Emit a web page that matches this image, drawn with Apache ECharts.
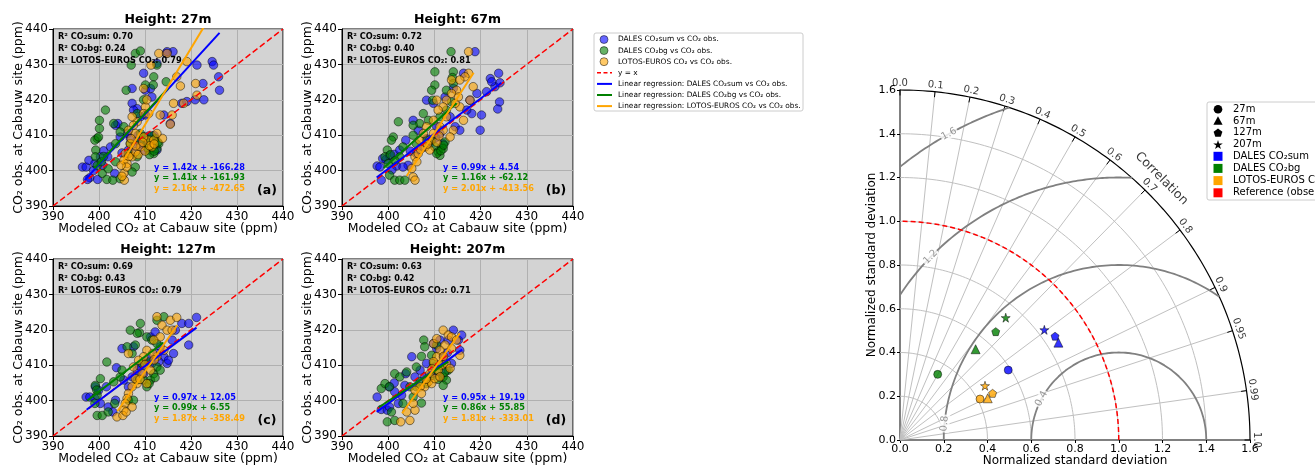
<!DOCTYPE html>
<html><head><meta charset="utf-8">
<script src="https://cdn.jsdelivr.net/npm/echarts@6/dist/echarts.min.js"></script>
<style>html,body{margin:0;padding:0;background:#fff}#c{width:1315px;height:466px}</style>
</head><body><div id="c"></div><script>
// ---------------- DATA ----------------
const heights = ['27m', '67m', '127m', '207m'];
const panelLetters = ['(a)', '(b)', '(c)', '(d)'];
const axisTicks = [390, 400, 410, 420, 430, 440];
const identityLine = [390, 440];

const r2Sum = [0.70, 0.72, 0.69, 0.63];
const r2Bg = [0.24, 0.40, 0.43, 0.42];
const r2Le = [0.79, 0.81, 0.79, 0.71];

const regSum = [[1.42, -166.28], [0.99, 4.54], [0.97, 12.05], [0.95, 19.19]];
const regBg = [[1.41, -161.93], [1.16, -62.12], [0.99, 6.55], [0.86, 55.85]];
const regLe = [[2.16, -472.65], [2.01, -413.56], [1.87, -358.49], [1.81, -333.01]];
const regSumRange = [[396.9, 426.2], [397.5, 424.5], [397.3, 421.2], [397.5, 416.0]];
const regBgRange = [[399.0, 415.0], [399.0, 414.8], [397.5, 414.0], [398.0, 413.0]];
const regLeRange = [[405.0, 423.5], [404.0, 418.5], [404.0, 417.0], [403.0, 415.5]];

const sum27 = [[396.4,401.0],[397.2,401.0],[397.8,402.9],[398.0,398.0],[397.5,397.5],[399.7,397.5],[399.1,402.0],[400.3,403.9],[401.0,405.6],[401.9,403.9],[402.5,406.7],[403.6,412.8],[404.1,413.3],[403.4,399.2],[404.6,409.5],[406.2,410.5],[407.2,423.2],[407.2,419.0],[408.3,417.5],[409.7,427.5],[410.1,422.7],[411.2,423.2],[411.5,420.8],[412.6,430.3],[414.6,433.1],[416.1,433.6],[414.8,433.6],[414.1,415.7],[415.5,413.3],[418.0,419.0],[419.1,419.5],[420.9,420.0],[421.3,429.8],[422.6,424.6],[422.8,420.0],[424.6,430.8],[424.9,429.8],[426.0,426.5],[426.2,422.7],[408.3,408.6],[409.0,407.6],[407.5,406.7],[410.4,408.6],[409.7,405.8],[406.4,405.8],[411.9,408.6],[412.6,405.8],[409.0,415.2],[407.5,417.1],[410.1,415.7],[408.5,410.0],[410.8,409.8],[405.0,405.0],[406.8,409.2],[412.0,409.9],[398.8,400.0],[400.8,401.5]];
const bg27 = [[407.9,433.1],[409.0,433.8],[407.0,429.8],[405.9,422.7],[401.4,417.1],[400.1,414.2],[400.1,411.9],[399.6,409.1],[399.1,408.6],[399.9,409.5],[399.3,405.8],[399.2,403.9],[399.6,401.4],[400.7,399.2],[401.7,397.5],[403.0,397.3],[403.6,402.5],[407.9,401.0],[407.2,399.6],[404.6,397.7],[403.2,413.3],[405.4,412.4],[411.9,426.5],[410.1,424.2],[411.8,424.2],[414.6,425.1],[412.6,429.8],[409.7,420.0],[408.3,416.1],[409.0,410.5],[409.7,409.5],[410.4,407.6],[411.2,408.6],[411.5,406.7],[411.9,404.8],[412.2,409.1],[412.6,406.2],[410.8,405.8],[413.0,407.6],[409.0,408.6],[406.4,404.8],[403.6,407.6],[404.6,410.9],[408.3,403.9],[406.8,407.6],[411.0,404.5],[412.0,405.5],[410.5,406.5],[412.8,408.0],[411.5,409.8],[400.5,402.5],[401.0,404.0],[402.0,400.5]];
const le27 = [[413.0,433.1],[414.8,433.1],[411.3,429.8],[419.1,430.8],[416.9,426.5],[417.7,423.9],[421.0,424.6],[421.3,421.3],[418.4,419.0],[415.9,415.7],[415.5,413.1],[413.3,415.7],[413.8,409.1],[409.7,423.2],[410.1,418.0],[409.7,416.1],[408.3,413.8],[407.5,412.8],[406.8,407.6],[405.7,404.8],[405.4,402.9],[405.4,399.2],[405.5,397.3],[405.0,398.4],[406.1,402.0],[407.2,403.9],[407.9,405.3],[409.0,406.7],[410.8,408.6],[411.5,406.7],[411.9,408.6],[409.7,409.5],[412.6,410.5],[407.9,410.5],[406.4,411.4],[407.2,415.2],[410.4,420.0],[410.8,416.1],[416.2,419.0],[406.5,404.0],[408.5,404.5],[410.0,405.5],[411.0,407.0],[412.0,407.5],[406.0,401.0],[408.0,407.0],[409.5,408.0],[407.0,409.0],[404.8,401.5]];

const sum67 = [[397.6,401.3],[398.2,401.0],[398.8,403.4],[398.5,397.3],[399.5,403.1],[400.3,404.3],[401.3,404.6],[401.8,401.3],[402.5,405.8],[403.8,408.6],[404.3,401.5],[405.4,414.2],[406.5,411.4],[408.3,419.9],[409.8,419.0],[410.5,412.4],[412.3,420.8],[414.1,423.2],[413.4,415.2],[414.5,412.4],[415.5,411.4],[416.3,427.5],[417.7,419.9],[418.1,416.1],[418.8,433.6],[419.2,421.8],[420.2,415.7],[419.9,411.4],[421.3,422.3],[423.1,423.7],[422.1,426.0],[423.9,427.5],[424.2,424.8],[424.1,419.4],[423.7,417.4],[422.4,425.1],[417.0,417.1],[411.9,407.6],[411.2,410.5],[409.0,407.6],[407.6,406.7],[406.1,404.8],[403.2,401.0],[408.3,409.0],[410.3,409.2],[404.8,405.5],[400.8,400.2]];
const bg67 = [[413.6,433.6],[410.1,427.9],[410.1,424.2],[414.1,427.9],[413.9,426.3],[409.4,422.7],[409.6,419.9],[407.6,416.1],[406.8,413.3],[405.4,412.8],[402.2,413.8],[401.1,409.5],[400.7,408.6],[399.8,405.8],[399.3,403.9],[400.0,402.0],[400.3,398.7],[401.4,397.3],[402.5,397.3],[403.6,397.3],[405.4,410.0],[408.7,414.2],[411.2,415.2],[412.6,417.1],[409.4,408.6],[410.1,406.7],[410.8,405.3],[411.6,406.7],[411.2,404.3],[412.3,408.1],[411.9,406.2],[408.3,408.6],[406.1,407.6],[402.5,403.9],[403.2,406.7],[414.1,424.6],[412.6,422.7],[413.7,419.4],[410.5,404.8],[411.4,405.6],[412.0,407.2],[400.5,404.5],[401.5,402.8]];
const le67 = [[417.4,433.6],[417.4,427.5],[416.6,426.5],[415.5,425.6],[414.8,422.7],[413.7,421.8],[418.4,423.7],[417.7,419.9],[416.3,414.2],[415.5,418.0],[414.5,419.0],[412.6,419.9],[411.9,418.0],[410.5,419.9],[410.8,417.1],[412.6,415.2],[414.1,411.4],[413.4,409.5],[409.8,414.2],[408.3,412.4],[406.8,408.6],[405.8,403.9],[405.4,398.2],[405.8,397.3],[405.1,400.6],[406.5,404.8],[408.0,406.7],[409.0,408.6],[409.8,410.5],[411.2,412.4],[411.9,411.4],[407.6,410.5],[409.0,405.8],[413.7,425.6],[415.2,420.8],[407.0,406.0],[408.5,407.5],[410.5,408.0],[406.2,402.5],[411.0,409.8]];

const sum127 = [[397.2,401.0],[398.0,401.0],[399.2,403.9],[399.9,402.9],[401.6,403.9],[402.0,398.2],[403.0,396.8],[403.6,400.1],[403.8,409.3],[405.0,414.7],[406.4,403.9],[408.3,408.6],[407.5,415.2],[410.4,410.5],[411.2,418.0],[412.2,419.4],[413.3,415.2],[414.1,412.4],[414.8,410.5],[415.9,417.1],[416.6,419.9],[418.0,421.8],[419.5,421.8],[419.5,415.7],[421.2,423.5],[416.2,413.3],[415.1,411.4],[412.6,413.3],[411.5,410.5],[409.7,407.6],[407.2,406.7],[405.4,405.8],[400.3,399.2],[399.1,400.6],[410.8,412.0],[413.0,411.0],[408.8,409.8]];
const bg127 = [[414.1,423.7],[412.6,422.7],[409.0,421.8],[408.8,419.2],[408.3,419.0],[406.8,419.9],[407.9,415.7],[406.1,415.2],[407.2,413.3],[410.4,418.0],[411.5,417.1],[412.6,416.1],[401.7,410.9],[400.3,406.2],[399.2,404.3],[399.6,401.5],[399.1,399.2],[399.6,395.8],[400.7,395.8],[402.0,396.8],[403.4,399.2],[406.4,400.1],[407.5,400.1],[403.2,405.3],[404.6,406.7],[408.3,405.8],[409.7,405.8],[410.4,403.9],[411.2,405.8],[411.9,407.6],[412.6,409.5],[410.8,410.9],[413.3,408.6],[409.4,410.5],[405.0,408.6],[410.9,404.8],[412.2,406.5],[399.5,403.0]];
const le127 = [[412.6,423.7],[415.5,422.7],[416.9,423.5],[413.7,421.3],[414.8,419.9],[415.9,419.9],[413.3,418.0],[411.9,417.1],[412.6,412.4],[410.4,414.2],[409.7,412.4],[408.6,411.4],[407.5,409.5],[409.4,407.6],[410.4,404.8],[408.3,404.8],[407.2,403.9],[406.4,402.0],[406.1,400.6],[405.7,399.2],[405.4,397.3],[403.9,395.4],[405.2,395.8],[405.9,396.8],[407.2,398.2],[407.9,406.2],[411.2,408.6],[414.1,414.2],[411.7,413.3],[406.4,413.3],[408.9,406.0],[410.0,410.2],[412.0,411.5]];

const sum207 = [[397.6,401.0],[398.5,397.5],[399.8,397.3],[400.3,398.2],[400.2,403.9],[401.3,405.0],[402.2,399.2],[403.8,407.6],[403.6,404.3],[405.1,412.4],[405.8,406.7],[406.9,408.6],[408.3,410.5],[409.8,416.1],[410.5,414.7],[411.2,417.1],[411.9,412.4],[413.0,417.1],[414.1,419.9],[415.2,417.1],[415.9,418.5],[415.5,414.2],[413.7,410.5],[412.6,408.6],[411.2,406.7],[409.4,407.6],[407.9,406.7],[402.9,401.5],[401.4,402.5],[410.0,409.5],[412.8,413.5]];
const bg207 = [[399.8,394.0],[401.4,394.4],[400.7,396.8],[403.2,399.2],[407.2,399.3],[405.4,401.0],[398.5,403.4],[399.3,404.8],[400.3,403.9],[401.4,407.6],[402.5,406.7],[404.0,408.1],[406.1,409.5],[407.2,412.5],[407.7,417.1],[407.9,415.2],[409.4,412.8],[409.8,410.5],[410.5,408.6],[411.2,410.0],[411.9,406.7],[412.6,405.8],[411.9,404.3],[413.0,408.6],[409.0,406.7],[406.9,405.3],[408.3,404.8],[404.7,403.9],[406.1,403.9],[410.5,415.7],[412.2,408.0],[410.8,406.0]];
const le207 = [[411.9,419.9],[413.0,418.5],[413.7,418.0],[414.8,417.1],[415.5,412.8],[413.7,414.7],[412.3,415.7],[411.2,414.2],[410.5,412.4],[409.8,411.0],[411.6,410.0],[412.6,410.5],[413.4,409.1],[410.8,408.6],[409.0,407.6],[408.7,405.3],[407.9,403.9],[406.9,403.9],[405.8,402.9],[405.8,397.3],[404.7,394.4],[402.7,394.0],[404.0,396.8],[405.4,399.2],[407.2,402.0],[409.4,404.8],[410.1,406.2],[411.2,406.7],[409.8,416.1],[410.5,417.5],[408.2,406.0],[409.5,409.0],[412.0,412.5]];

// Taylor diagram: normalized std & correlation, order 27m, 67m, 127m, 207m
const stdSum = [0.589, 0.850, 0.853, 0.830];
const corrSum = [0.840, 0.852, 0.831, 0.795];
const stdBg = [0.346, 0.540, 0.661, 0.739];
const corrBg = [0.498, 0.640, 0.662, 0.654];
const stdLe = [0.411, 0.444, 0.474, 0.461];
const corrLe = [0.890, 0.903, 0.893, 0.843];
const corrTicks = [0.0, 0.1, 0.2, 0.3, 0.4, 0.5, 0.6, 0.7, 0.8, 0.9, 0.95, 0.99, 1.0];
const stdGridRadii = [0.2, 0.4, 0.6, 0.8, 1.0, 1.2, 1.4];
const rmsRadii = [0.4, 0.8, 1.2, 1.6];
const taylorTicks = [0.0, 0.2, 0.4, 0.6, 0.8, 1.0, 1.2, 1.4, 1.6];
const refStd = 1.0;
const maxStd = 1.6;

// ---------------- LAYOUT / STYLE ----------------
const FONT = 'DejaVu Sans';
const gridBoxes = [
  {left: 53, top: 29, width: 230, height: 177},
  {left: 342, top: 29, width: 231, height: 177},
  {left: 53, top: 259, width: 230, height: 177},
  {left: 342, top: 259, width: 231, height: 177}
];
const taylorBox = {left: 900, top: 90, width: 350, height: 350};
const C_SUM = '#0000ff', C_BG = '#008000', C_LE = '#ffa500', C_REF = '#ff0000';
const sumData = [sum27, sum67, sum127, sum207];
const bgData = [bg27, bg67, bg127, bg207];
const leData = [le27, le67, le127, le207];
const shapes = ['circle', 'triangle',
  'path://M0,-10L9.511,-3.09L5.878,8.09L-5.878,8.09L-9.511,-3.09Z',
  'path://M0,-10L2.245,-3.09L9.511,-3.09L3.633,1.18L5.878,8.09L0,3.82L-5.878,8.09L-3.633,1.18L-9.511,-3.09L-2.245,-3.09Z'];
const shapeSizes = [8, 9, 8, 9];

const grids = [], xAxes = [], yAxes = [], series = [], graphics = [];

gridBoxes.forEach((g, i) => {
  grids.push(Object.assign({show: true, backgroundColor: '#d3d3d3', borderColor: '#000', borderWidth: 1, containLabel: false, outerBoundsMode: 'none'}, g));
  const ax = {
    gridIndex: i, type: 'value', min: axisTicks[0], max: axisTicks[axisTicks.length - 1], interval: 10,
    axisLine: {show: true, onZero: false, lineStyle: {color: '#000', width: 1}},
    axisTick: {show: true, inside: false, length: 4, lineStyle: {color: '#000'}},
    axisLabel: {color: '#000', fontSize: 12, fontFamily: FONT, margin: 5},
    splitLine: {show: true, lineStyle: {color: '#b0b0b0', width: 1}},
    nameLocation: 'middle', nameMoveOverlap: false,
    nameTextStyle: {color: '#000', fontSize: 12.5, fontFamily: FONT}
  };
  xAxes.push(Object.assign({}, ax, {name: 'Modeled CO₂ at Cabauw site (ppm)', nameGap: 16}));
  yAxes.push(Object.assign({}, ax, {name: 'CO₂ obs. at Cabauw site (ppm)', nameGap: 28}));

  const sc = (data, color) => ({
    type: 'scatter', xAxisIndex: i, yAxisIndex: i, data: data, symbolSize: 8.5, z: 2,
    itemStyle: {color: color, opacity: 0.6, borderColor: '#000', borderWidth: 0.8}
  });
  series.push(sc(sumData[i], C_SUM), sc(bgData[i], C_BG), sc(leData[i], C_LE));
  series.push({
    type: 'line', xAxisIndex: i, yAxisIndex: i, showSymbol: false, z: 3,
    data: [[identityLine[0], identityLine[0]], [identityLine[1], identityLine[1]]],
    lineStyle: {color: C_REF, width: 1.5, type: [6, 3]}
  });
  const reg = (coef, range, color) => ({
    type: 'line', xAxisIndex: i, yAxisIndex: i, showSymbol: false, z: 4, clip: true,
    data: range.map(x => [x, coef[0] * x + coef[1]]),
    lineStyle: {color: color, width: 2}
  });
  series.push(reg(regSum[i], regSumRange[i], C_SUM), reg(regBg[i], regBgRange[i], C_BG), reg(regLe[i], regLeRange[i], C_LE));

  // texts
  graphics.push({type: 'text', x: g.left + g.width / 2, y: g.top - 9, z: 10,
    style: {text: 'Height: ' + heights[i], font: 'bold 12.5px ' + FONT, fill: '#000', align: 'center', verticalAlign: 'middle'}});
  const r2 = ['R² CO₂sum: ' + r2Sum[i].toFixed(2), 'R² CO₂bg: ' + r2Bg[i].toFixed(2), 'R² LOTOS-EUROS CO₂: ' + r2Le[i].toFixed(2)];
  r2.forEach((t, k) => graphics.push({type: 'text', x: g.left + 5, y: g.top + 7.7 + k * 12, z: 10,
    style: {text: t, font: 'bold 8.2px ' + FONT, fill: '#000', align: 'left', verticalAlign: 'middle'}}));
  const eq = (c) => 'y = ' + c[0].toFixed(2) + 'x + ' + c[1].toFixed(2);
  [[regSum[i], C_SUM], [regBg[i], C_BG], [regLe[i], C_LE]].forEach((e, k) => graphics.push({type: 'text', x: g.left + 101, y: g.top + 138.5 + k * 10.8, z: 10,
    style: {text: eq(e[0]), font: 'bold 8.2px ' + FONT, fill: e[1], align: 'left', verticalAlign: 'middle'}}));
  graphics.push({type: 'text', x: g.left + 214, y: g.top + 162, z: 10,
    style: {text: panelLetters[i], font: 'bold 12.5px ' + FONT, fill: '#000', align: 'center', verticalAlign: 'middle'}});
});

// ---- scatter legend ----
(function () {
  const x0 = 594, y0 = 33, items = [39.5, 50.6, 61.7, 72.8, 83.9, 95.0, 106.1];
  graphics.push({type: 'rect', shape: {x: x0, y: y0, width: 209, height: 78, r: 2}, z: 10,
    style: {fill: '#fff', stroke: '#cccccc', lineWidth: 1}});
  const labels = ['DALES CO₂sum vs CO₂ obs.', 'DALES CO₂bg vs CO₂ obs.', 'LOTOS-EUROS CO₂ vs CO₂ obs.', 'y = x',
    'Linear regression: DALES CO₂sum vs CO₂ obs.', 'Linear regression: DALES CO₂bg vs CO₂ obs.', 'Linear regression: LOTOS-EUROS CO₂ vs CO₂ obs.'];
  const cols = [C_SUM, C_BG, C_LE];
  items.forEach((y, k) => {
    if (k < 3) {
      graphics.push({type: 'circle', shape: {cx: 604, cy: y, r: 4}, z: 11,
        style: {fill: cols[k], stroke: '#000', lineWidth: 0.8, opacity: 0.6}});
    } else if (k === 3) {
      graphics.push({type: 'line', shape: {x1: 597, y1: y, x2: 612, y2: y}, z: 11,
        style: {stroke: C_REF, lineWidth: 1.5, lineDash: [4, 2.5]}});
    } else {
      graphics.push({type: 'line', shape: {x1: 597, y1: y, x2: 612, y2: y}, z: 11,
        style: {stroke: cols[k - 4], lineWidth: 2}});
    }
    graphics.push({type: 'text', x: 618, y: y, z: 11,
      style: {text: labels[k], font: '7.4px ' + FONT, fill: '#000', align: 'left', verticalAlign: 'middle'}});
  });
})();

// ---------------- TAYLOR DIAGRAM ----------------
grids.push(Object.assign({show: false, containLabel: false, outerBoundsMode: 'none'}, taylorBox));
const tAx = {
  gridIndex: 4, type: 'value', min: taylorTicks[0], max: taylorTicks[taylorTicks.length - 1], interval: 0.2,
  axisLine: {show: true, onZero: false, lineStyle: {color: '#808080', width: 2}},
  axisTick: {show: true, inside: false, length: 3, lineStyle: {color: '#000'}},
  axisLabel: {color: '#000', fontSize: 11, fontFamily: FONT, margin: 4, formatter: v => v.toFixed(1)},
  splitLine: {show: false},
  name: 'Normalized standard deviation', nameLocation: 'middle', nameMoveOverlap: false,
  nameTextStyle: {color: '#000', fontSize: 12, fontFamily: FONT}
};
xAxes.push(Object.assign({}, tAx, {nameGap: 15}));
yAxes.push(Object.assign({}, tAx, {nameGap: 22}));

function arcPts(cx, R, a0, a1, n) {
  const pts = [];
  for (let k = 0; k <= n; k++) {
    const a = a0 + (a1 - a0) * k / n;
    pts.push([cx + R * Math.cos(a), R * Math.sin(a)]);
  }
  return pts;
}
function tLine(data, color, width, type, z) {
  return {type: 'line', xAxisIndex: 4, yAxisIndex: 4, showSymbol: false, silent: true, clip: false, z: z,
    data: data, lineStyle: {color: color, width: width, type: type || 'solid'}};
}
// std arcs
stdGridRadii.forEach(r => series.push(tLine(arcPts(0, r, 0, Math.PI / 2, 90), '#c0c0c0', 1, 'solid', 1)));
// radial correlation lines + ticks
corrTicks.forEach(c => {
  const a = Math.acos(c);
  if (c > 0 && c < 1) {
    series.push(tLine([[0, 0], [maxStd * Math.cos(a), maxStd * Math.sin(a)]], '#c0c0c0', 1, 'solid', 1));
  }
  series.push(tLine([[(maxStd - 0.025) * Math.cos(a), (maxStd - 0.025) * Math.sin(a)], [maxStd * Math.cos(a), maxStd * Math.sin(a)]], '#000', 1, 'solid', 2));
});
// outer arc
series.push(tLine(arcPts(0, maxStd, 0, Math.PI / 2, 120), '#000', 1.2, 'solid', 2));
// RMS contours centred on reference
rmsRadii.forEach(R => {
  let a0 = 0, a1 = Math.PI;
  if (refStd + R > maxStd) {
    const xi = (maxStd * maxStd - R * R + refStd * refStd) / (2 * refStd);
    a0 = Math.acos((xi - refStd) / R);
  }
  if (R > refStd) a1 = Math.atan2(Math.sqrt(R * R - refStd * refStd), -refStd);
  series.push(tLine(arcPts(refStd, R, a0, a1, 120), '#808080', 1.8, 'solid', 2));
});
// reference std arc
series.push(tLine(arcPts(0, refStd, 0, Math.PI / 2, 90), C_REF, 1.5, [5, 3], 3));

// RMS contour labels
const rmsLabelAngles = [151.9, 174.6, 135.8, 119.0];
series.push({
  type: 'scatter', xAxisIndex: 4, yAxisIndex: 4, symbolSize: 1, silent: true, z: 4, clip: false,
  itemStyle: {color: 'transparent'},
  label: {show: true, position: 'inside', color: '#808080', fontSize: 10, fontFamily: FONT, backgroundColor: '#fff', padding: [0, 1]},
  data: rmsRadii.map((R, k) => {
    const a = rmsLabelAngles[k] * Math.PI / 180;
    return {value: [refStd + R * Math.cos(a), R * Math.sin(a)], label: {formatter: R.toFixed(1), rotate: rmsLabelAngles[k] - 90}};
  })
});
// correlation tick labels
series.push({
  type: 'scatter', xAxisIndex: 4, yAxisIndex: 4, symbolSize: 1, silent: true, z: 4, clip: false,
  itemStyle: {color: 'transparent'},
  labelLayout: {hideOverlap: false},
  label: {show: true, position: 'inside', color: '#000', fontSize: 10, fontFamily: FONT},
  data: corrTicks.map(c => {
    const a = Math.acos(c);
    const rr = maxStd + 0.03;
    return {value: [rr * Math.cos(a), rr * Math.sin(a)], label: {formatter: c.toFixed(c === 0.95 || c === 0.99 ? 2 : 1), rotate: a * 180 / Math.PI - 90}};
  }).concat([{value: [1.69 * Math.cos(Math.PI / 4), 1.69 * Math.sin(Math.PI / 4)], label: {formatter: 'Correlation', rotate: -45, fontSize: 12.5}}])
});
// model points
function modelSeries(stds, corrs, color) {
  return {
    type: 'scatter', xAxisIndex: 4, yAxisIndex: 4, z: 6,
    itemStyle: {color: color, borderColor: '#000', borderWidth: 0.6},
    data: stds.map((s, k) => ({
      value: [s * corrs[k], s * Math.sin(Math.acos(corrs[k]))],
      symbol: shapes[k], symbolSize: shapeSizes[k]
    }))
  };
}
series.push(modelSeries(stdSum, corrSum, C_SUM), modelSeries(stdBg, corrBg, C_BG), modelSeries(stdLe, corrLe, C_LE));

// Taylor legend
(function () {
  const x0 = 1207, y0 = 102;
  graphics.push({type: 'rect', shape: {x: x0, y: y0, width: 130, height: 98, r: 2}, z: 10,
    style: {fill: '#fff', stroke: '#cccccc', lineWidth: 1}});
  const ys = [109.2, 121.0, 132.7, 144.4, 156.3, 168.4, 180.6, 192.8];
  const labels = ['27m', '67m', '127m', '207m', 'DALES CO₂sum', 'DALES CO₂bg', 'LOTOS-EUROS CO₂', 'Reference (observed)'];
  const mx = 1218;
  const poly = (n, r, inner, cx, cy) => {
    const pts = [];
    const m = inner ? n * 2 : n;
    for (let k = 0; k < m; k++) {
      const a = -Math.PI / 2 + k * 2 * Math.PI / m;
      const rr = inner && (k % 2) ? r * 0.382 : r;
      pts.push([cx + rr * Math.cos(a), cy + rr * Math.sin(a)]);
    }
    return pts;
  };
  graphics.push({type: 'circle', shape: {cx: mx, cy: ys[0], r: 4.3}, z: 11, style: {fill: '#000'}});
  graphics.push({type: 'polygon', shape: {points: [[mx, ys[1] - 4.8], [mx + 4.6, ys[1] + 3.8], [mx - 4.6, ys[1] + 3.8]]}, z: 11, style: {fill: '#000'}});
  graphics.push({type: 'polygon', shape: {points: poly(5, 4.6, false, mx, ys[2] + 0.4)}, z: 11, style: {fill: '#000'}});
  graphics.push({type: 'polygon', shape: {points: poly(5, 5, true, mx, ys[3] + 0.6)}, z: 11, style: {fill: '#000'}});
  [C_SUM, C_BG, C_LE, C_REF].forEach((c, k) => graphics.push({type: 'rect', shape: {x: mx - 4.5, y: ys[4 + k] - 4.5, width: 9, height: 9}, z: 11, style: {fill: c}}));
  labels.forEach((t, k) => graphics.push({type: 'text', x: 1233, y: ys[k], z: 11,
    style: {text: t, font: '10px ' + FONT, fill: '#000', align: 'left', verticalAlign: 'middle'}}));
})();

const chart = echarts.init(document.getElementById('c'), null, {renderer: 'canvas'});
chart.setOption({
  animation: false,
  backgroundColor: '#fff',
  textStyle: {fontFamily: FONT},
  grid: grids, xAxis: xAxes, yAxis: yAxes, series: series, graphic: graphics
});
</script></body></html>
